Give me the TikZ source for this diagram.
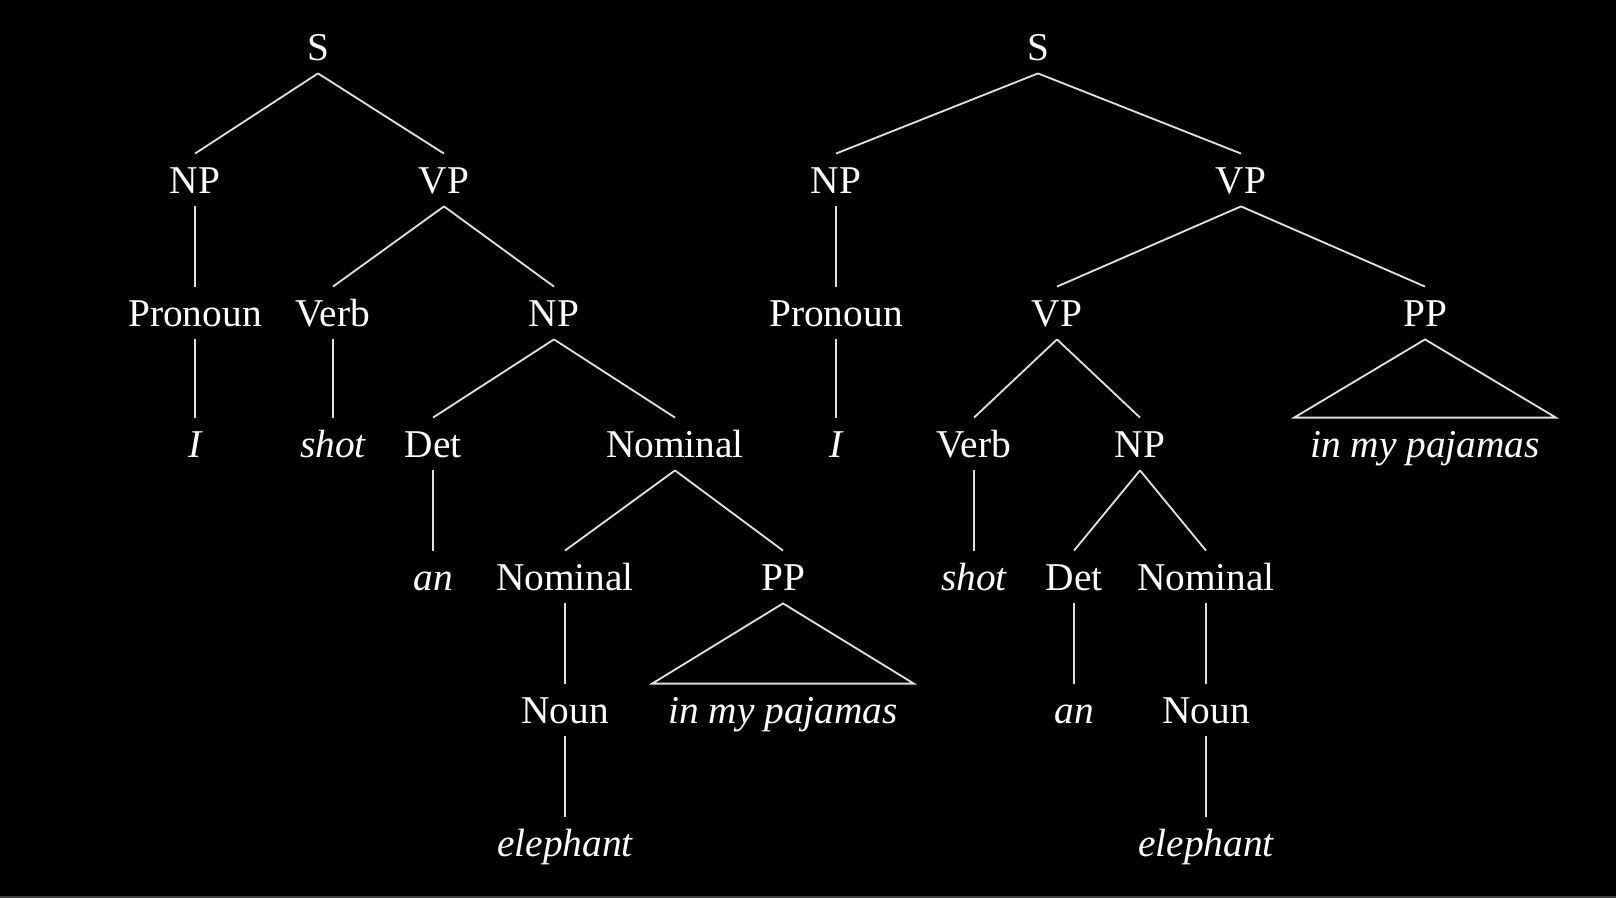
\documentclass[tikz,border=0pt]{standalone}
\usepackage{fontspec}
\setmainfont{Liberation Serif}
\usetikzlibrary{positioning}
\tikzset{every path/.style={white!88!black,line width=1.3pt},
  cat/.style={text=white, font=\fontsize{28}{34}\selectfont, inner sep=0pt, outer xsep=0pt,
              outer ysep=0.335cm, text height=18.5pt, text depth=0pt},
  word/.style={cat, font=\fontsize{28}{34}\selectfont\itshape},
  wide/.style={word, inner xsep=0.4cm}}

\begin{document}
\begin{tikzpicture}[x=0.025cm,y=-0.025cm]
   \useasboundingbox (0,0) rectangle (1616,898);
   \fill[black] (-4,-4) rectangle (1620,902);
   \draw[black!75!white,line width=0.8pt] (-4,897) -- (1620,897);
   % first reading
   \node[cat]  (lS)    at (318, 47) {S};
   \node[cat]  (lNP)   at (195,180) {NP};
   \node[cat]  (lVP)   at (444,180) {VP};
   \node[cat]  (lPro)  at (195,313) {Pronoun};
   \node[cat]  (lVerb) at (333,313) {Verb};
   \node[cat]  (lNPb)  at (554,313) {NP};
   \node[word] (lI)    at (195,444) {I};
   \node[word] (lshot) at (333,444) {shot};
   \node[cat]  (lDet)  at (433,444) {Det};
   \node[cat]  (lNom)  at (675,444) {Nominal};
   \node[word] (lan)   at (433,577) {an};
   \node[cat]  (lNomb) at (565,577) {Nominal};
   \node[cat]  (lPP)   at (783,577) {PP};
   \node[cat]  (lNoun) at (565,710) {Noun};
   \node[wide] (lpj)   at (783,710) {in my pajamas};
   \node[word] (lele)  at (565,843) {elephant};
   \draw (lS.south) -- (lNP.north);
   \draw (lS.south) -- (lVP.north);
   \draw (lNP.south) -- (lPro.north);
   \draw (lVP.south) -- (lVerb.north);
   \draw (lVP.south) -- (lNPb.north);
   \draw (lPro.south) -- (lI.north);
   \draw (lVerb.south) -- (lshot.north);
   \draw (lNPb.south) -- (lDet.north);
   \draw (lNPb.south) -- (lNom.north);
   \draw (lDet.south) -- (lan.north);
   \draw (lNom.south) -- (lNomb.north);
   \draw (lNom.south) -- (lPP.north);
   \draw (lNomb.south) -- (lNoun.north);
   \draw (lNoun.south) -- (lele.north);
   \draw (lPP.south) -- (lpj.north west) -- (lpj.north east) -- cycle;
   % second reading
   \node[cat]  (rS)    at (1038, 47) {S};
   \node[cat]  (rNP)   at (836,180) {NP};
   \node[cat]  (rVP)   at (1241,180) {VP};
   \node[cat]  (rPro)  at (836,313) {Pronoun};
   \node[cat]  (rVPb)  at (1057,313) {VP};
   \node[cat]  (rPP)   at (1425,313) {PP};
   \node[word] (rI)    at (836,444) {I};
   \node[cat]  (rVerb) at (974,444) {Verb};
   \node[cat]  (rNPb)  at (1140,444) {NP};
   \node[wide] (rpj)   at (1425,444) {in my pajamas};
   \node[word] (rshot) at (974,577) {shot};
   \node[cat]  (rDet)  at (1074,577) {Det};
   \node[cat]  (rNom)  at (1206,577) {Nominal};
   \node[word] (ran)   at (1074,710) {an};
   \node[cat]  (rNoun) at (1206,710) {Noun};
   \node[word] (rele)  at (1206,843) {elephant};
   \draw (rS.south) -- (rNP.north);
   \draw (rS.south) -- (rVP.north);
   \draw (rNP.south) -- (rPro.north);
   \draw (rVP.south) -- (rVPb.north);
   \draw (rVP.south) -- (rPP.north);
   \draw (rPro.south) -- (rI.north);
   \draw (rVPb.south) -- (rVerb.north);
   \draw (rVPb.south) -- (rNPb.north);
   \draw (rVerb.south) -- (rshot.north);
   \draw (rNPb.south) -- (rDet.north);
   \draw (rNPb.south) -- (rNom.north);
   \draw (rDet.south) -- (ran.north);
   \draw (rNom.south) -- (rNoun.north);
   \draw (rNoun.south) -- (rele.north);
   \draw (rPP.south) -- (rpj.north west) -- (rpj.north east) -- cycle;
\end{tikzpicture}
\end{document}
